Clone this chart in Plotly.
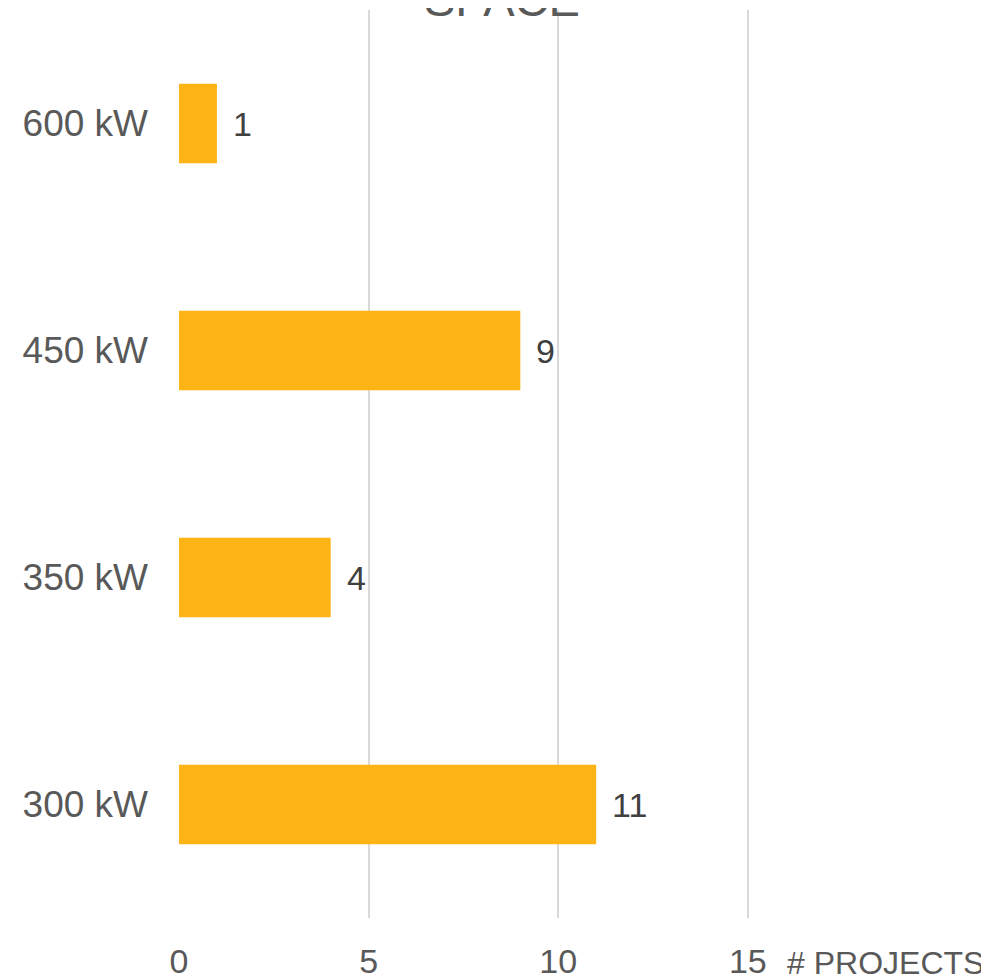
import plotly.graph_objects as go

# Dados do gráfico
categorias = ["300 kW", "350 kW", "450 kW", "600 kW"]
projetos = [11, 4, 9, 1]
ticks_x = [0, 5, 10, 15]

cor_barra = "#FEB415"
cor_texto = "#595959"

fig = go.Figure()

fig.add_trace(go.Bar(
    x=projetos,
    y=categorias,
    orientation="h",
    marker=dict(color=cor_barra, line=dict(width=0)),
    width=0.35,
    hoverinfo="skip",
))

# Rótulos de dados à direita das barras
for v, c in zip(projetos, categorias):
    fig.add_annotation(
        x=v, y=c, text=str(v), showarrow=False,
        xanchor="left", yanchor="middle", xshift=14, yshift=0,
        font=dict(size=34, color="#404040"),
    )

# Título cortado no topo
fig.add_annotation(
    x=0.566, y=1, xref="paper", yref="paper", text="SPACE",
    showarrow=False, xanchor="center", yanchor="middle", yshift=11,
    font=dict(size=47, color=cor_texto),
)

# Rótulo do eixo x
fig.add_annotation(
    x=1, y=0, xref="paper", yref="paper", text="# PROJECTS",
    showarrow=False, xanchor="left", yanchor="top", xshift=36, yshift=-25,
    font=dict(size=32, color=cor_texto),
)

# a página tem 8px de margem no body, então a figura é um pouco menor
fig.update_layout(
    width=981, height=969,
    margin=dict(l=171, r=240, t=2, b=59, autoexpand=False),
    paper_bgcolor="white", plot_bgcolor="white",
    showlegend=False,
    font=dict(family="Liberation Sans, Arial, sans-serif", color=cor_texto),
    xaxis=dict(
        range=[0, 15.03], tickvals=ticks_x, showgrid=True, gridcolor="#D9D9D9",
        gridwidth=1.5, zeroline=False, showline=False, ticks="", automargin=False,
        tickfont=dict(size=34, color=cor_texto), ticklabelstandoff=20,
    ),
    yaxis=dict(
        categoryorder="array", categoryarray=categorias, range=[-0.5, 3.5],
        showgrid=False, zeroline=False, showline=False, ticks="", automargin=False,
        tickfont=dict(size=37, color=cor_texto), ticklabelstandoff=30,
    ),
)

fig.write_html("out.html")
